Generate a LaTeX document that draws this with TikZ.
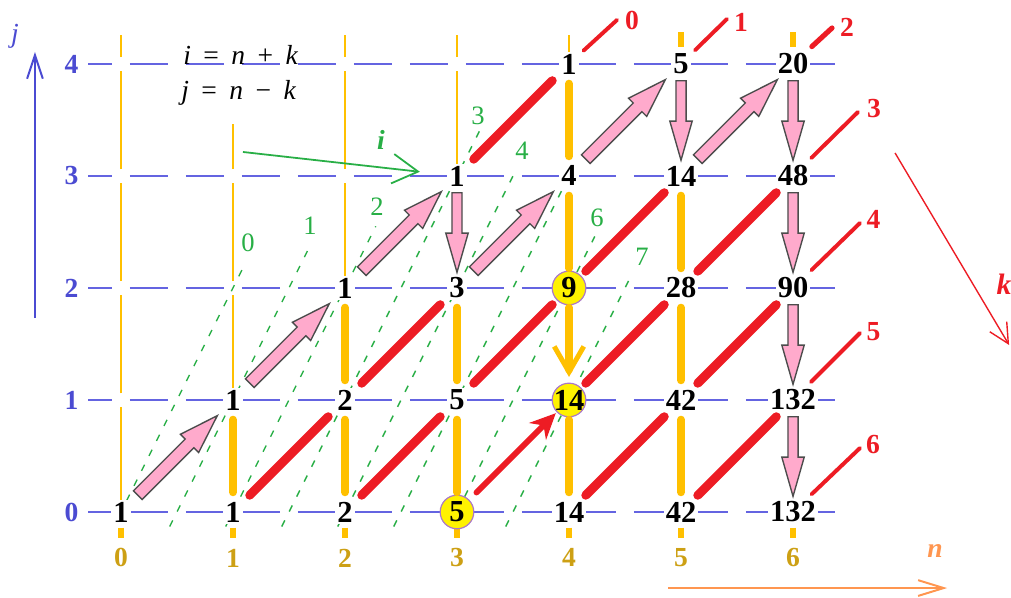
\documentclass[tikz,border=0pt]{standalone}
\usepackage{fontspec}
\setmainfont{Liberation Serif}
\usepackage{tikz}
\usetikzlibrary{arrows.meta, calc}

\definecolor{gridblue}{RGB}{100,100,225}
\definecolor{labblue}{RGB}{75,75,210}
\definecolor{lineorange}{RGB}{255,192,0}
\definecolor{labgold}{RGB}{205,160,20}
\definecolor{catred}{RGB}{237,28,36}
\definecolor{arrowpink}{RGB}{255,170,204}
\definecolor{ilinegreen}{RGB}{40,175,70}
\definecolor{axisorange}{RGB}{255,150,80}
\definecolor{ringpurple}{RGB}{170,120,200}

% 粗箭头: 起点, 终点, 杆半宽, 头半宽
\newcommand{\fatarrow}[4]{%
  \coordinate (fa-s) at ($(#1.center)!0.15!(#2.center)$);
  \coordinate (fa-t) at ($(#1.center)!0.86!(#2.center)$);
  \coordinate (fa-b) at ($(fa-t)!0.7cm!(fa-s)$);
  \filldraw[fill=arrowpink, draw=black!70, line width=0.7pt]
    ($(fa-s)!#3!90:(fa-t)$) -- ($(fa-b)!#3!90:(fa-t)$) -- ($(fa-b)!#4!90:(fa-t)$)
    -- (fa-t) -- ($(fa-b)!#4!-90:(fa-t)$) -- ($(fa-b)!#3!-90:(fa-t)$)
    -- ($(fa-s)!#3!-90:(fa-t)$) -- cycle;}

\begin{document}
\begin{tikzpicture}[x=2cm, y=2cm,
  rowline/.style={gridblue, line width=0.9pt, dash pattern=on 0.68cm off 0.32cm, dash phase=0.26cm},
  vthin/.style={lineorange, line width=0.8pt, dash pattern=on 1.76cm off 0.24cm, dash phase=1.88cm},
  ortick/.style={lineorange, line width=3pt},
  idash/.style={ilinegreen, line width=0.7pt, dash pattern=on 3.5pt off 5pt},
  num/.style={fill=white, inner sep=1pt, font=\fontsize{15.5}{16}\selectfont\bfseries},
  hl/.style={circle, fill=yellow, draw=ringpurple, line width=0.6pt, minimum size=0.6cm, inner sep=-2pt},
  rowlab/.style={labblue, font=\fontsize{14}{16}\selectfont\bfseries},
  collab/.style={labgold, font=\fontsize{14}{16}\selectfont\bfseries},
  catlab/.style={catred, font=\fontsize{14}{16}\selectfont\bfseries},
  ilab/.style={ilinegreen, font=\fontsize{13.5}{15}\selectfont},
  redline/.style={catred, line width=4.5pt, line cap=round, shorten <=12pt, shorten >=12pt},
  redlbl/.style={catred, line width=2pt, line cap=round, shorten <=13pt},
  thickor/.style={lineorange, line width=4pt, line cap=round, shorten <=10pt, shorten >=10pt}]

  \useasboundingbox (-1.080,-0.759) rectangle (7.946,4.571);
  \fill[white] (-1.080,-0.759) rectangle (7.946,4.571);

  % 网格
  \foreach \r in {0,...,4} \draw[rowline] (-0.29,\r) -- (6.375,\r);
  \draw[vthin] (0,0) -- (0,4.26);
  \draw[vthin] (1,1) -- (1,3.46);
  \draw[vthin] (2,2) -- (2,4.26);
  \draw[vthin] (3,3) -- (3,4.26);
  \draw[vthin] (4,4) -- (4,4.26);
  \draw[ortick] (5,4.152) -- (5,4.286);
  \draw[ortick] (6,4.152) -- (6,4.286);
  \foreach \c in {0,...,6} \draw[ortick] (\c,-0.14) -- (\c,-0.23);

  % i = const 的虚线
  \foreach \i/\a/\b in {0/0.1/2.2, 1/-0.13/2.36, 2/-0.13/2.55, 3/-0.13/3.41,
                        4/-0.13/3.07, 5/-0.13/2.9, 6/-0.13/2.46, 7/-0.13/2.14}
    \draw[idash] ({(\i+\a)/2},\a) -- ({(\i+\b)/2},\b);
  \node[ilab] (i0) at (1.134,2.402) {0};
  \node[ilab] (i1) at (1.688,2.554) {1};
  \node[ilab] (i2) at (2.286,2.723) {2};
  \node[ilab] (i3) at (3.188,3.536) {3};
  \node[ilab] (i4) at (3.580,3.223) {4};
  \node[ilab] (i6) at (4.250,2.625) {6};
  \node[ilab] (i7) at (4.652,2.277) {7};

  % 数
  \node[num] (n00) at (0,0) {1};
  \node[num] (n10) at (1,0) {1};
  \node[num] (n20) at (2,0) {2};
  \node[num,hl] (n30) at (3,0) {5};
  \node[num] (n40) at (4,0) {14};
  \node[num] (n50) at (5,0) {42};
  \node[num] (n60) at (6,0) {132};
  \node[num] (n11) at (1,1) {1};
  \node[num] (n21) at (2,1) {2};
  \node[num] (n31) at (3,1) {5};
  \node[num,hl] (n41) at (4,1) {14};
  \node[num] (n51) at (5,1) {42};
  \node[num] (n61) at (6,1) {132};
  \node[num] (n22) at (2,2) {1};
  \node[num] (n32) at (3,2) {3};
  \node[num,hl] (n42) at (4,2) {9};
  \node[num] (n52) at (5,2) {28};
  \node[num] (n62) at (6,2) {90};
  \node[num] (n33) at (3,3) {1};
  \node[num] (n43) at (4,3) {4};
  \node[num] (n53) at (5,3) {14};
  \node[num] (n63) at (6,3) {48};
  \node[num] (n44) at (4,4) {1};
  \node[num] (n54) at (5,4) {5};
  \node[num] (n64) at (6,4) {20};

  % 坐标标注
  \foreach \r in {0,...,4} \node[rowlab] (r\r) at (-0.442,\r) {\r};
  \foreach \c in {0,...,6} \node[collab] (c\c) at (\c,-0.41) {\c};

  % 竖直粗线
  \foreach \a/\b in {n10/n11, n20/n21, n21/n22, n30/n31, n31/n32, n40/n41,
                     n42/n43, n43/n44, n50/n51, n51/n52, n52/n53}
    \draw[thickor] (\a.center) -- (\b.center);
  \draw[thickor, shorten >=11.7pt, -{Straight Barb[length=13pt, width=15pt, line width=2.5pt]}] (n42.center) -- (n41.center);

  % 红色斜线
  \foreach \a/\b in {n10/n21, n20/n31, n40/n51, n50/n61, n21/n32, n31/n42,
                     n41/n52, n51/n62, n42/n53, n52/n63, n33/n44}
    \draw[redline] (\a.center) -- (\b.center);
  \draw[catred, line width=3pt, line cap=round, shorten <=14pt, shorten >=9.5pt,
        -{Stealth[length=13pt, width=12pt]}] (n30.center) -- (n41.center);

  % 红色 k 标号
  \coordinate (e44) at (4.429,4.393);
  \coordinate (e54) at (5.411,4.402);
  \coordinate (e64) at (6.348,4.321);
  \coordinate (e63) at (6.580,3.571);
  \coordinate (e62) at (6.598,2.580);
  \coordinate (e61) at (6.598,1.598);
  \coordinate (e60) at (6.598,0.571);
  \draw[redlbl, shorten <=10pt] (n44.center) -- (e44);
  \draw[redlbl, shorten <=10pt] (n54.center) -- (e54);
  \draw[redlbl, line width=2.6pt] (n64.center) -- (e64);
  \draw[redlbl] (n63.center) -- (e63);
  \draw[redlbl] (n62.center) -- (e62);
  \draw[redlbl] (n61.center) -- (e61);
  \draw[redlbl] (n60.center) -- (e60);
  \node[catlab] (k0) at (4.563,4.384) {0};
  \node[catlab] (k1) at (5.536,4.375) {1};
  \node[catlab] (k2) at (6.482,4.326) {2};
  \node[catlab] (k3) at (6.723,3.598) {3};
  \node[catlab] (k4) at (6.719,2.616) {4};
  \node[catlab] (k5) at (6.719,1.607) {5};
  \node[catlab] (k6) at (6.714,0.598) {6};

  % 粉色箭头
  \foreach \a/\b in {n00/n11, n11/n22, n22/n33, n32/n43, n43/n54, n53/n64}
    {\fatarrow{\a}{\b}{0.11cm}{0.23cm}}
  \foreach \a/\b in {n33/n32, n54/n53, n64/n63, n63/n62, n62/n61, n61/n60}
    {\fatarrow{\a}{\b}{0.09cm}{0.2cm}}

  % 公式
  \node[anchor=base west, inner sep=0pt, font=\fontsize{14}{16}\selectfont] (eqi) at (0.554,3.991)
    {\textit{i}\hspace{0.45em}=\hspace{0.45em}\textit{n}\hspace{0.45em}+\hspace{0.45em}\textit{k}};
  \node[anchor=base west, inner sep=0pt, font=\fontsize{14}{16}\selectfont] (eqj) at (0.536,3.679)
    {\textit{j}\hspace{0.45em}=\hspace{0.45em}\textit{n}\hspace{0.45em}\textminus\hspace{0.45em}\textit{k}};

  % 坐标轴
  \coordinate (jfoot) at (-0.768,1.73);
  \coordinate (jtip) at (-0.768,4.107);
  \draw[labblue, line width=1pt, -{Straight Barb[length=12pt, width=8pt]}] (jfoot) -- (jtip);
  \node[labblue, font=\fontsize{14}{16}\selectfont\itshape] (jtext) at (-0.946,4.25) {j};

  \coordinate (istart) at (1.089,3.214);
  \draw[ilinegreen, line width=0.9pt, shorten >=19pt, -{Straight Barb[length=13pt, width=15pt]}] (istart) -- (n33.center);
  \node[ilinegreen, font=\fontsize{14}{16}\selectfont\bfseries\itshape] (itext) at (2.321,3.321) {i};

  \coordinate (kstart) at (6.911,3.205);
  \coordinate (kend) at (7.929,1.491);
  \draw[catred, line width=0.7pt, -{Straight Barb[length=10pt, width=10pt]}] (kstart) -- (kend);
  \node[catred, font=\fontsize{15}{16}\selectfont\bfseries\itshape] (ktext) at (7.884,2.036) {k};

  \coordinate (nstart) at (4.884,-0.679);
  \coordinate (nend) at (7.375,-0.679);
  \draw[axisorange, line width=1pt, -{Straight Barb[length=13pt, width=8pt]}] (nstart) -- (nend);
  \node[axisorange, font=\fontsize{14}{16}\selectfont\bfseries\itshape] (ntext) at (7.268,-0.348) {n};
\end{tikzpicture}
\end{document}
